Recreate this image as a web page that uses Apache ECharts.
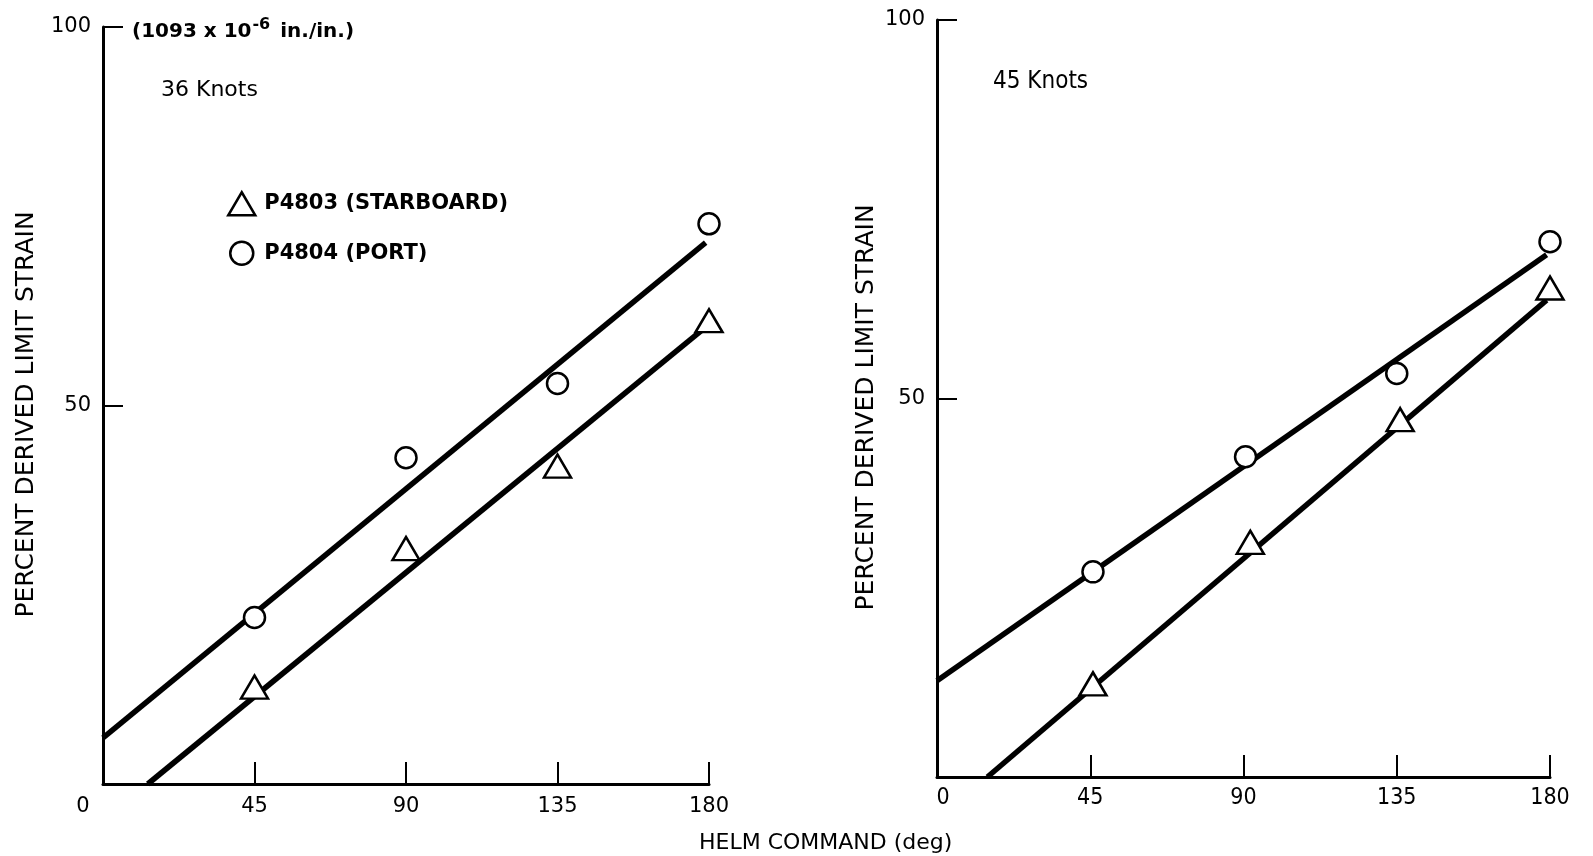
<!DOCTYPE html>
<html>
<head>
<meta charset="utf-8">
<script src="https://cdn.jsdelivr.net/npm/echarts@6/dist/echarts.min.js"></script>
<style>
html,body{margin:0;padding:0;background:#fff;}
#chart{width:1593px;height:856px;}
</style>
</head>
<body>
<div id="chart"></div>
<script>
// ---- data ----
const xTicks = [0, 45, 90, 135, 180];
const yTicks = [0, 50, 100];

// 36 knots panel
const starboard36 = [[45, 12.8], [90, 31.1], [135, 42.0], [180, 61.2]];
const port36      = [[45, 22.0], [90, 43.1], [135, 52.9], [180, 74.0]];
const starboardFit36 = [[13.3, 0], [178, 60.0]];
const portFit36      = [[0, 6.1], [179, 71.5]];

// 45 knots panel
const starboard45 = [[45.8, 12.3], [92, 31.0], [136, 47.2], [180, 64.6]];
const port45      = [[45.8, 27.1], [90.6, 42.3], [135, 53.3], [180, 70.7]];
const starboardFit45 = [[14.8, 0], [179, 63.0]];
const portFit45      = [[0, 12.7], [179, 69.0]];

const nameStar = 'P4803 (STARBOARD)';
const namePort = 'P4804 (PORT)';

const FONT = 'DejaVu Sans';
const FONTC = 'DejaVu Sans Condensed';

const chart = echarts.init(document.getElementById('chart'), null, {renderer: 'canvas'});

function xAxisCfg(gridIndex, zeroShift, family, size, margin) {
  return {
    type: 'value', gridIndex, min: xTicks[0], max: xTicks[xTicks.length - 1], interval: 45,
    axisLine: {show: true, onZero: true, lineStyle: {color: '#000', width: 3}},
    axisTick: {show: true, inside: true, length: 22, lineStyle: {color: '#000', width: 2}},
    splitLine: {show: false},
    axisLabel: {
      color: '#000', fontFamily: family, fontSize: size, margin: margin,
      formatter: v => v === 0 ? '{z|0}' : String(v),
      rich: {z: {fontFamily: family, fontSize: size, color: '#000', padding: zeroShift}}
    }
  };
}
function yAxisCfg(gridIndex, family, gap) {
  return {
    type: 'value', gridIndex, min: yTicks[0], max: yTicks[yTicks.length - 1], interval: 50,
    axisLine: {show: true, onZero: true, lineStyle: {color: '#000', width: 3}},
    axisTick: {show: true, inside: true, length: 20, lineStyle: {color: '#000', width: 2}},
    splitLine: {show: false},
    axisLabel: {color: '#000', fontFamily: family, fontSize: 21, margin: 12,
      formatter: v => v === 0 ? '' : String(v)},
    name: 'PERCENT DERIVED LIMIT STRAIN',
    nameLocation: 'middle', nameGap: gap, nameRotate: 90,
    nameTextStyle: {color: '#000', fontFamily: FONT, fontSize: 25, padding: [0, 18, 0, 0]}
  };
}

const markerStyle = {color: '#fff', borderColor: '#000', borderWidth: 2.5, opacity: 1};
function scatter(name, data, idx, symbol, size) {
  return {type: 'scatter', name, data, xAxisIndex: idx, yAxisIndex: idx, symbol, symbolSize: size,
    itemStyle: markerStyle, z: 5, clip: false, emphasis: {disabled: true}};
}
function fit(data, idx) {
  return {type: 'line', data, xAxisIndex: idx, yAxisIndex: idx, symbol: 'none', z: 3,
    lineStyle: {color: '#000', width: 5.5}, clip: false, silent: true, emphasis: {disabled: true}};
}

chart.setOption({
  animation: false,
  backgroundColor: '#fff',
  grid: [
    {left: 103, right: 884, top: 27, bottom: 72, containLabel: false},
    {left: 937, right: 43, top: 20, bottom: 79, containLabel: false}
  ],
  xAxis: [xAxisCfg(0, [0, 40, 0, 0], FONT, 21, 12), xAxisCfg(1, [0, 0, 0, 12], FONTC, 23, 10)],
  yAxis: [yAxisCfg(0, FONT, 64), yAxisCfg(1, FONT, 58)],
  title: [
    {text: '(1093 x 10{s|-6} in./in.)', left: 127, top: 12,
      textStyle: {color: '#000', fontFamily: FONT, fontWeight: 'bold', fontSize: 20,
        rich: {s: {fontFamily: FONT, fontWeight: 'bold', fontSize: 16, verticalAlign: 'top', padding: [0, 3, 14, 1], color: '#000'}}}},
    {text: '36 Knots', left: 156, top: 74, textStyle: {color: '#000', fontFamily: FONT, fontWeight: 'normal', fontSize: 22}},
    {text: '45 Knots', left: 988, top: 65, textStyle: {color: '#000', fontFamily: FONTC, fontWeight: 'normal', fontSize: 24}},
    {text: 'HELM COMMAND (deg)', left: 694, top: 827, textStyle: {color: '#000', fontFamily: FONT, fontWeight: 'normal', fontSize: 22}}
  ],
  legend: {
    data: [{name: nameStar, icon: 'triangle'}, {name: namePort, icon: 'circle'}],
    orient: 'vertical', left: 222, top: 186, itemWidth: 27, itemHeight: 23, itemGap: 24,
    selectedMode: false,
    itemStyle: {color: '#fff', borderColor: '#000', borderWidth: 2.5, opacity: 1},
    textStyle: {color: '#000', fontFamily: FONT, fontWeight: 'bold', fontSize: 21, padding: [0, 0, 0, 4]}
  },
  series: [
    fit(starboardFit36, 0), fit(portFit36, 0),
    scatter(nameStar, starboard36, 0, 'triangle', [27, 23]),
    scatter(namePort, port36, 0, 'circle', 21),
    fit(starboardFit45, 1), fit(portFit45, 1),
    scatter(nameStar, starboard45, 1, 'triangle', [27, 23]),
    scatter(namePort, port45, 1, 'circle', 21)
  ]
});
</script>
</body>
</html>
